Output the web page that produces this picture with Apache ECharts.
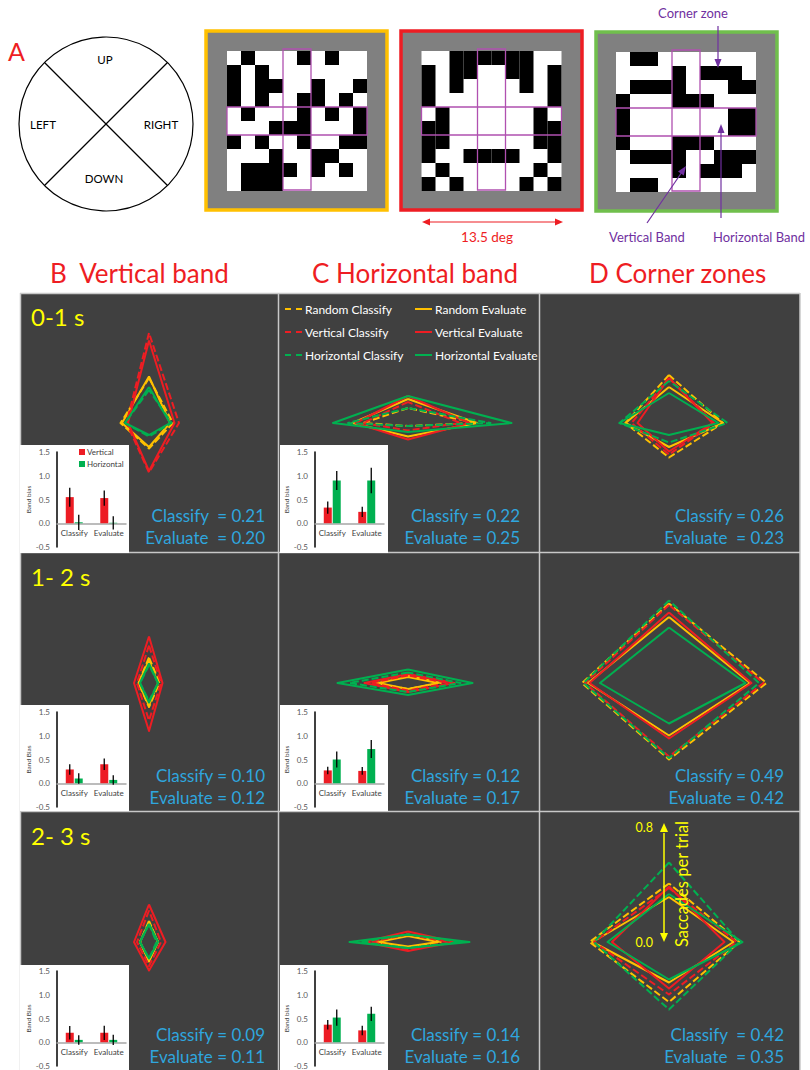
<!DOCTYPE html>
<html><head><meta charset="utf-8">
<script src="https://cdn.jsdelivr.net/npm/echarts/dist/echarts.min.js"></script>
<style>html,body{margin:0;padding:0;background:#fff}#c{width:810px;height:1070px}</style>
</head><body><div id="c"></div><script>
// ---------- DATA ----------
const directions = ['UP', 'RIGHT', 'DOWN', 'LEFT'];
const lineNames = ['Random Classify', 'Random Evaluate', 'Vertical Classify', 'Vertical Evaluate', 'Horizontal Classify', 'Horizontal Evaluate'];
const timeLabels = ['0-1 s', '1- 2 s', '2- 3 s'];
const columnTitles = ['B  Vertical band', 'C Horizontal band', 'D Corner zones'];

// saccades per trial; each row = [UP, RIGHT, DOWN, LEFT], rows follow lineNames
const vertical_0_1 = [[0.30,0.16,0.17,0.19],[0.31,0.14,0.16,0.18],[0.60,0.20,0.33,0.15],[0.55,0.17,0.32,0.14],[0.22,0.15,0.09,0.16],[0.24,0.14,0.08,0.16]];
const horizontal_0_1 = [[0.10,0.45,0.02,0.30],[0.16,0.46,0.09,0.37],[0.14,0.35,0.05,0.30],[0.18,0.41,0.11,0.35],[0.10,0.55,0.02,0.40],[0.18,0.69,0.06,0.50]];
const corner_0_1 = [[0.32,0.36,0.23,0.29],[0.24,0.36,0.16,0.29],[0.30,0.30,0.21,0.25],[0.30,0.29,0.19,0.21],[0.28,0.39,0.13,0.33],[0.20,0.33,0.08,0.33]];
const vertical_1_2 = [[0.17,0.07,0.16,0.07],[0.15,0.06,0.15,0.07],[0.25,0.08,0.25,0.08],[0.31,0.09,0.32,0.10],[0.12,0.06,0.12,0.06],[0.13,0.06,0.13,0.06]];
const horizontal_1_2 = [[0.05,0.22,0.04,0.22],[0.04,0.20,0.04,0.20],[0.05,0.27,0.05,0.25],[0.06,0.31,0.06,0.29],[0.07,0.35,0.06,0.39],[0.09,0.43,0.08,0.47]];
const corner_1_2 = [[0.53,0.65,0.51,0.58],[0.44,0.54,0.35,0.54],[0.52,0.63,0.49,0.56],[0.47,0.55,0.37,0.53],[0.55,0.60,0.50,0.57],[0.37,0.51,0.27,0.46]];
const vertical_2_3 = [[0.14,0.06,0.12,0.06],[0.13,0.06,0.13,0.06],[0.21,0.08,0.16,0.08],[0.25,0.11,0.19,0.10],[0.12,0.05,0.11,0.06],[0.12,0.06,0.11,0.06]];
const horizontal_2_3 = [[0.05,0.22,0.04,0.22],[0.04,0.20,0.03,0.20],[0.05,0.27,0.05,0.25],[0.07,0.31,0.06,0.29],[0.05,0.35,0.04,0.32],[0.05,0.41,0.04,0.39]];
const corner_2_3 = [[0.39,0.47,0.40,0.53],[0.30,0.43,0.27,0.51],[0.36,0.45,0.35,0.50],[0.37,0.37,0.31,0.38],[0.53,0.47,0.45,0.50],[0.32,0.49,0.25,0.41]];

const classifyLabels = ['Classify  = 0.21','Classify = 0.22','Classify = 0.26','Classify = 0.10','Classify = 0.12','Classify = 0.49','Classify = 0.09','Classify = 0.14','Classify  = 0.42'];
const evaluateLabels = ['Evaluate  = 0.20','Evaluate = 0.25','Evaluate  = 0.23','Evaluate = 0.12','Evaluate = 0.17','Evaluate = 0.42','Evaluate = 0.11','Evaluate = 0.16','Evaluate  = 0.35'];

// band-bias insets (order: B 0-1, C 0-1, B 1-2, C 1-2, B 2-3, C 2-3)
const insetCategories = ['Classify', 'Evaluate'];
const biasVertical = [[0.55,0.53],[0.33,0.24],[0.29,0.40],[0.27,0.26],[0.20,0.20],[0.37,0.25]];
const biasVerticalErr = [[0.20,0.16],[0.13,0.11],[0.11,0.12],[0.08,0.08],[0.14,0.15],[0.10,0.10]];
const biasHorizontal = [[0.02,0.01],[0.90,0.90],[0.10,0.07],[0.50,0.72],[0.05,0.05],[0.52,0.60]];
const biasHorizontalErr = [[0.16,0.14],[0.20,0.27],[0.11,0.10],[0.17,0.19],[0.10,0.11],[0.17,0.15]];
const biasAxisNames = ['Band bias','Band bias','Band Bias','Band bias','Band Bias','Band bias'];
const biasTicks = ['-0.5','0.0','0.5','1.0','1.5'];

// stimulus patterns (# = black)
const patternRandom = ['.#...#.#..','#.#.......','#.##..#..#','#.#..##.#.','.#...#.#.#','...###...#','#.#..#..##','...#..##..','.####.#.#.','.###......'];
const patternVertical = ['..######..','#.##..##.#','#.#....#.#','#........#','.#......#.','##......##','##......##','#..####..#','.#......#.','#.#....#.#'];
const patternHorizontal = ['.##.......','....#.###.','.####...##','#...###...','#.......##','#.......##','#...###...','.####..###','....#.###.','.##.......'];
const compassLabels = ['UP', 'LEFT', 'RIGHT', 'DOWN'];

// ---------- STYLE ----------
const lineColors = ['#FFC000','#FFC000','#EE1D23','#EE1D23','#00B050','#00B050'];
const lineDashed = [true,false,true,false,true,false];
const FONT = 'Lato';
const panelData = [vertical_0_1, horizontal_0_1, corner_0_1, vertical_1_2, horizontal_1_2, corner_1_2, vertical_2_3, horizontal_2_3, corner_2_3];
const rowY = [293, 553, 812];
const centersX = [149, 408, 669], centersY = [423, 683, 942];
const textRight = [265, 520, 784];

const G = [];
function rect(x,y,w,h,fill,stroke,lw,z){G.push({type:'rect',silent:true,z:z||1,shape:{x:x,y:y,width:w,height:h},style:{fill:fill||'none',stroke:stroke||'none',lineWidth:lw||0}});}
function line(x1,y1,x2,y2,stroke,lw,z){G.push({type:'line',silent:true,z:z||1,shape:{x1:x1,y1:y1,x2:x2,y2:y2},style:{stroke:stroke,lineWidth:lw}});}
function text(t,x,y,size,color,align,rot,z){G.push({type:'text',silent:true,z:z||20,x:x,y:y,rotation:rot||0,style:{text:t,fill:color,fontSize:size,fontFamily:FONT,font:size+'px '+FONT,textAlign:align||'left',align:align||'left',textVerticalAlign:'middle',verticalAlign:'middle'}});}
function head(x1,y1,x2,y2,color,len,wid,z){const dx=x2-x1,dy=y2-y1,L=Math.hypot(dx,dy),ux=dx/L,uy=dy/L;const bx=x2-ux*len,by=y2-uy*len;G.push({type:'polygon',silent:true,z:z||20,shape:{points:[[x2,y2],[bx-uy*wid/2,by+ux*wid/2],[bx+uy*wid/2,by-ux*wid/2]]},style:{fill:color}});}

// ----- Section A -----
text('A', 8, 51, 25, '#EE1D23', 'left');
G.push({type:'circle',silent:true,z:2,shape:{cx:106,cy:124,r:87},style:{fill:'#fff',stroke:'#000',lineWidth:1.2}});
line(106-61.5,124-61.5,106+61.5,124+61.5,'#000',1.2,3);
line(106+61.5,124-61.5,106-61.5,124+61.5,'#000',1.2,3);
const compassPos = [[105,59],[43,124],[161,124],[104,178]];
compassLabels.forEach((t,i)=>text(t, compassPos[i][0], compassPos[i][1], 11.5, '#000', 'center'));

const frames = [
  {x:206,y:31,color:'#FFC000',gx:227,gy:51,pat:patternRandom},
  {x:401,y:31,color:'#EE1D23',gx:421.5,gy:51,pat:patternVertical},
  {x:596,y:32,color:'#70BF4C',gx:616,gy:52,pat:patternHorizontal}
];
frames.forEach(f=>{
  rect(f.x,f.y,181,179,'#808080',f.color,3.5,2);
  const c = 14;
  rect(f.gx,f.gy,10*c,10*c,'#fff',null,0,3);
  f.pat.forEach((row,r)=>{ for(let k=0;k<10;k++){ if(row[k]==='#') rect(f.gx+k*c,f.gy+r*c,c,c,'#000',null,0,4); } });
  rect(f.gx+4*c,f.gy-2,2*c,10*c+1,null,'#B050B0',1.3,5);
  rect(f.gx,f.gy+4*c,10*c,2*c,null,'#B050B0',1.3,5);
});
// 13.5 deg
line(430,222,556,222,'#EE1D23',1.2,6); head(556,222,563,222,'#EE1D23',8,7); head(430,222,422,222,'#EE1D23',8,7);
text('13.5 deg', 487, 237, 13.5, '#EE1D23', 'center');
// purple notes
const PURPLE = '#7030A0';
text('Corner zone', 693, 13, 13, PURPLE, 'center');
line(718,26,718,60,PURPLE,1.2,8); head(718,26,718,68,PURPLE,9,7,9);
text('Vertical Band', 647, 237, 13, PURPLE, 'center');
line(647,223,682,172,PURPLE,1.2,8); head(647,223,686,166,PURPLE,9,7,9);
text('Horizontal Band', 759, 237, 13, PURPLE, 'center');
line(721,218,721,131,PURPLE,1.2,8); head(721,218,721,124,PURPLE,9,7,9);

// ----- column titles -----
const titleX = [50, 312, 589];
columnTitles.forEach((t,i)=>text(t, titleX[i], 273, 26, '#EE1D23', 'left'));

// ----- panels -----
rect(20,293,780,777,'#404040',null,0,-20);
line(20,293.5,800,293.5,'#C8C8C8',1.5,-19);
line(278.5,293,278.5,1070,'#C8C8C8',1.5,-19);
line(539.5,293,539.5,1070,'#C8C8C8',1.5,-19);
line(20,552.5,800,552.5,'#C8C8C8',1.5,-19);
line(20,811.5,800,811.5,'#C8C8C8',1.5,-19);
line(20.5,293,20.5,1070,'#C8C8C8',1.5,-19);
line(800,293,800,1070,'#C8C8C8',1.5,-19);
timeLabels.forEach((t,r)=>text(t, 31, rowY[r]+23, 24, '#FFFF00', 'left'));
for(let p=0;p<9;p++){
  const r=Math.floor(p/3), c=p%3;
  text(classifyLabels[p], textRight[c], rowY[r]+222, 17, '#2FA6DE', 'right');
  text(evaluateLabels[p], textRight[c], rowY[r]+244, 17, '#2FA6DE', 'right');
}
// saccades axis annotation (D 2-3)
line(664,833,664,934,'#FFFF00',1.5,30); head(664,880,664,823,'#FFFF00',9,8,31); head(664,880,664,942,'#FFFF00',9,8,31);
text('0.8', 653, 827, 12.5, '#FFFF00', 'right');
text('0.0', 653, 942, 12.5, '#FFFF00', 'right');
text('Saccades per trial', 682, 884, 16.5, '#FFFF00', 'center', Math.PI/2);

// inset backgrounds
const insetBoxX = [20, 280], insetBoxW = [109, 108];
const insetBoxY = [445, 705, 965], insetBoxH = [108, 106, 105];
const insetGridLeft = [57, 315], insetGridTop = [452, 712, 971];
const insetGridH = 95;

// ---------- OPTION ----------
const radar = [], series = [], grid = [], xAxis = [], yAxis = [];
const toCCW = v => [v[0], v[3], v[2], v[1]];
const ccwNames = toCCW(directions);
panelData.forEach((pd,p)=>{
  const r=Math.floor(p/3), c=p%3;
  radar.push({center:[centersX[c],centersY[r]], radius:120, startAngle:90, shape:'polygon', splitNumber:1,
    indicator: ccwNames.map(n=>({name:n, min:0, max:0.8})),
    axisName:{show:false}, axisLine:{show:false}, splitLine:{show:false}, splitArea:{show:false}, axisTick:{show:false}, axisLabel:{show:false}, silent:true});
  series.push({type:'radar', radarIndex:p, symbol:'none', silent:true, z:5,
    data: pd.map((v,k)=>({name:lineNames[k], value:toCCW(v),
      lineStyle:{color:lineColors[k], width:2, type: lineDashed[k]?[7,3]:'solid'},
      itemStyle:{color:lineColors[k]}, areaStyle:{opacity:0}}))});
});
function errRender(offset){return function(params, api){
  const x = api.coord([api.value(0), 0])[0] + offset;
  const y1 = api.coord([api.value(0), api.value(1)])[1];
  const y2 = api.coord([api.value(0), api.value(2)])[1];
  return {type:'line', shape:{x1:x,y1:y1,x2:x,y2:y2}, style:{stroke:'#000', lineWidth:1.3}};
};}
const yMin = -0.5, yMax = 1.5;
for(let i=0;i<6;i++){
  const r=Math.floor(i/2), c=i%2;
  rect(insetBoxX[c], insetBoxY[r], insetBoxW[c], insetBoxH[r], '#fff', null, 0, -5);
  grid.push({left:insetGridLeft[c], top:insetGridTop[r], width:69, height:insetGridH, containLabel:false, outerBoundsMode:'none'});
  xAxis.push({type:'category', gridIndex:i, data:insetCategories, position:'bottom',
    offset: -insetGridH * (0 - yMin) / (yMax - yMin),
    axisLine:{onZero:false, lineStyle:{color:'#A6A6A6', width:1.5}}, axisTick:{show:false},
    axisLabel:{fontSize:8, color:'#404040', margin:6, interval:0, fontFamily:FONT}});
  yAxis.push({type:'value', gridIndex:i, min:yMin, max:yMax, interval:0.5,
    axisLine:{show:true, lineStyle:{color:'#000', width:1.5}}, axisTick:{show:false}, splitLine:{show:false},
    axisLabel:{fontSize:8, color:'#595959', margin:7, fontFamily:FONT, formatter:(v)=>biasTicks[Math.round((v+0.5)/0.5)]},
    name:biasAxisNames[i], nameLocation:'middle', nameRotate:90, nameGap:21,
    nameTextStyle:{fontSize:6.5, color:'#404040', fontFamily:FONT}});
  series.push({type:'bar', name:'Vertical', xAxisIndex:i, yAxisIndex:i, data:biasVertical[i], barWidth:8, barGap:'12%', itemStyle:{color:'#ED1C24'}, silent:true, z:3});
  series.push({type:'bar', name:'Horizontal', xAxisIndex:i, yAxisIndex:i, data:biasHorizontal[i], barWidth:8, barGap:'12%', itemStyle:{color:'#00B050'}, silent:true, z:3});
  series.push({type:'custom', name:'errV', xAxisIndex:i, yAxisIndex:i, silent:true, z:6, encode:{x:0,y:[1,2]},
    data:biasVertical[i].map((m,k)=>[k, m-biasVerticalErr[i][k], m+biasVerticalErr[i][k]]), renderItem:errRender(-4.5)});
  series.push({type:'custom', name:'errH', xAxisIndex:i, yAxisIndex:i, silent:true, z:6, encode:{x:0,y:[1,2]},
    data:biasHorizontal[i].map((m,k)=>[k, m-biasHorizontalErr[i][k], m+biasHorizontalErr[i][k]]), renderItem:errRender(4.5)});
}

// legends
const dashIcon = 'path://M0 0H6V2H0Z M11 0H17V2H11Z';
const solidIcon = 'path://M0 0H17V2H0Z';
const legendPos = [[285,311],[415,311],[285,334],[415,334],[285,357],[415,357]];
const legend = lineNames.map((n,k)=>({left:legendPos[k][0], top:legendPos[k][1]-8, padding:0, itemWidth:17, itemHeight:2,
  selectedMode:false, data:[{name:n, icon: lineDashed[k]?dashIcon:solidIcon, itemStyle:{color:lineColors[k], borderWidth:0}}],
  textStyle:{color:'#FFFFFF', fontSize:12, fontFamily:FONT, padding:[0,0,0,-2]}}));
legend.push({left:79, top:448, padding:0, orient:'vertical', itemGap:4, itemWidth:6, itemHeight:6, selectedMode:false,
  data:[{name:'Vertical', icon:'rect', itemStyle:{color:'#ED1C24'}},{name:'Horizontal', icon:'rect', itemStyle:{color:'#00B050'}}],
  textStyle:{color:'#404040', fontSize:8, fontFamily:FONT, padding:[0,0,0,-3]}});

const chart = echarts.init(document.getElementById('c'), null, {renderer:'svg', width:810, height:1070});
chart.setOption({
  animation:false, backgroundColor:'#fff',
  textStyle:{fontFamily:FONT},
  radar: radar, grid: grid, xAxis: xAxis, yAxis: yAxis, legend: legend, series: series,
  graphic: {elements: G}
});
</script></body></html>
